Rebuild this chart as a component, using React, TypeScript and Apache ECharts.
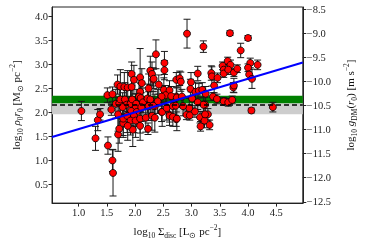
import React, { useEffect, useRef } from "react";
import * as echarts from "echarts";

// log10 Sigma_disc values
const xVals = [
  1.05, 1.30, 1.34, 1.38, 1.51, 1.52, 1.60, 1.58, 1.60, 1.61,
  1.70, 1.72, 1.79, 1.96, 2.23, 2.47, 2.73, 2.91, 2.97, 3.06,
  3.15, 3.16, 2.61, 2.73, 3.23, 3.29, 3.32, 3.24, 3.38, 3.45,
  3.57, 3.65, 3.72, 3.74, 4.06, 4.44, 3.68, 4.00, 3.87, 3.21,
  3.35, 3.36, 3.40, 3.46, 3.55, 3.64, 3.69, 3.57, 3.57, 3.65,
  3.75, 3.81, 4.04, 4.00, 4.02, 4.07, 4.17, 3.75, 2.92, 2.37,
  2.52, 2.52, 2.73, 2.79, 2.81, 3.11, 2.99, 2.98, 2.32, 2.42,
  2.51, 2.61, 2.54, 2.47, 2.64, 2.74, 2.83, 3.07, 3.13, 3.19,
  3.25, 3.01, 3.11, 3.21, 3.24, 2.48, 2.56, 2.67, 2.72, 2.61,
  2.67, 2.74, 2.96, 2.85, 2.35, 2.40, 1.69, 1.74, 1.81, 1.87,
  1.94, 1.94, 1.98, 2.09, 2.12, 2.09, 2.24, 2.27, 2.30, 2.33,
  1.66, 1.72, 1.74, 1.82, 1.85, 1.78, 1.92, 1.95, 2.02, 2.01,
  2.07, 2.10, 2.14, 2.22, 2.27, 1.93, 2.03, 2.11, 2.24, 2.32,
  1.70, 1.79, 1.86, 1.98, 1.92, 2.01, 2.09, 2.19, 2.30, 1.87,
  2.09, 2.35
];

// log10 rho0 r0 values
const yVals = [
  2.03, 1.46, 1.84, 1.96, 2.36, 1.31, 2.38, 2.06, 1.00, 0.74,
  1.54, 1.66, 1.78, 1.64, 1.66, 2.01, 1.86, 1.95, 1.94, 2.02,
  1.90, 1.71, 1.95, 2.33, 1.83, 1.96, 1.74, 2.16, 2.33, 2.28,
  2.23, 2.21, 2.26, 2.52, 2.04, 2.11, 3.65, 3.55, 3.29, 3.37,
  2.82, 2.75, 2.56, 2.72, 2.97, 3.07, 2.99, 2.89, 2.81, 2.89,
  2.83, 2.91, 3.03, 2.93, 2.79, 2.70, 2.99, 2.56, 3.64, 3.21,
  3.03, 2.88, 2.68, 2.71, 2.64, 2.81, 2.63, 2.49, 2.68, 2.58,
  2.47, 2.46, 2.36, 2.33, 2.34, 2.31, 2.33, 2.43, 2.45, 2.47,
  2.39, 2.29, 2.21, 2.16, 1.96, 2.01, 2.09, 2.13, 2.14, 1.93,
  1.91, 1.87, 2.09, 2.13, 2.13, 2.23, 2.58, 2.54, 2.53, 2.52,
  2.53, 2.80, 2.68, 2.73, 2.61, 2.43, 2.50, 2.87, 2.80, 2.70,
  2.18, 2.19, 2.27, 2.27, 2.16, 2.11, 2.18, 2.27, 2.18, 2.09,
  2.33, 2.30, 2.21, 2.29, 2.27, 2.03, 2.01, 2.11, 2.13, 2.14,
  1.96, 1.87, 1.93, 1.93, 1.83, 1.83, 1.87, 1.89, 1.93, 1.72,
  1.72, 1.89
];

// symmetric error half-widths
const yErr = [
  0.20, 0.25, 0.22, 0.12, 0.15, 0.18, 0.15, 0.12, 0.23, 0.48,
  0.35, 0.30, 0.30, 0.35, 0.12, 0.20, 0.15, 0.10, 0.10, 0.12,
  0.12, 0.10, 0.15, 0.20, 0.15, 0.12, 0.10, 0.15, 0.08, 0.10,
  0.08, 0.08, 0.08, 0.10, 0.05, 0.10, 0.05, 0.05, 0.15, 0.12,
  0.15, 0.20, 0.15, 0.10, 0.08, 0.08, 0.10, 0.10, 0.08, 0.10,
  0.08, 0.08, 0.10, 0.08, 0.10, 0.20, 0.10, 0.15, 0.30, 0.30,
  0.24, 0.20, 0.15, 0.15, 0.20, 0.15, 0.20, 0.20, 0.25, 0.20,
  0.25, 0.20, 0.20, 0.20, 0.20, 0.20, 0.15, 0.20, 0.15, 0.15,
  0.15, 0.20, 0.15, 0.15, 0.20, 0.30, 0.25, 0.20, 0.20, 0.20,
  0.20, 0.25, 0.20, 0.20, 0.25, 0.25, 0.20, 0.35, 0.30, 0.35,
  0.30, 0.25, 0.30, 0.60, 0.30, 0.30, 0.30, 0.30, 0.25, 0.20,
  0.30, 0.30, 0.30, 0.35, 0.30, 0.30, 0.30, 0.30, 0.30, 0.30,
  0.30, 0.30, 0.30, 0.30, 0.30, 0.30, 0.30, 0.30, 0.30, 0.30,
  0.35, 0.35, 0.35, 0.35, 0.30, 0.35, 0.30, 0.30, 0.30, 0.30,
  0.30, 0.30
];

// best-fit line endpoints
const fitX = [0.53, 4.97];
const fitY = [1.49, 3.04];

// horizontal reference levels
const grayBand = [1.96, 2.19];
const greenBand = [2.19, 2.345];
const dashedLevel = 2.16;

// axis tick labels
const xTicks = [1.0, 1.5, 2.0, 2.5, 3.0, 3.5, 4.0, 4.5];
const yTicks = [0.5, 1.0, 1.5, 2.0, 2.5, 3.0, 3.5, 4.0];
const gTicks = [-12.5, -12.0, -11.5, -11.0, -10.5, -10.0, -9.5, -9.0, -8.5];

const X_MIN = 0.53, X_MAX = 4.97;
const Y_MIN = 0.112, Y_MAX = 4.195;
const G_OFFSET = -12.64;

const FONT = "Liberation Serif";
const rich = {
  n: { fontFamily: FONT, fontSize: 11, lineHeight: 16, color: "#111" },
  i: { fontFamily: FONT, fontSize: 11, lineHeight: 16, fontStyle: "italic", color: "#111" },
  s: { fontFamily: FONT, fontSize: 7.5, lineHeight: 7, verticalAlign: "bottom", color: "#111" },
  p: { fontFamily: FONT, fontSize: 7.5, lineHeight: 7, verticalAlign: "top", color: "#111" },
};

export default function App() {
  const ref = useRef<HTMLDivElement>(null);
  useEffect(() => {
    if (!ref.current) return;
    const chart = echarts.init(ref.current, undefined, { renderer: "svg" });
    const pts = xVals.map((x, k) => [x, yVals[k], yErr[k]]);
    const fit = fitX.map((x, k) => [x, fitY[k]]);
    const labelStyle = { fontFamily: FONT, fontSize: 10.5, color: "#222", margin: 4 };
    chart.setOption({
      animation: false,
      grid: { left: 37, right: 50, top: 7, bottom: 34, show: true, borderColor: "#222", borderWidth: 1 },
      xAxis: {
        type: "value", min: X_MIN, max: X_MAX,
        axisLine: { lineStyle: { color: "#222", width: 1 } },
        axisTick: { show: true, length: 3.5, customValues: xTicks, lineStyle: { color: "#222" } },
        axisLabel: { ...labelStyle, customValues: xTicks, formatter: (v: number) => v.toFixed(1) },
        splitLine: { show: false },
        name: "{n|log}{s|10}{n| Σ}{s|disc}{n| [L}{s|⊙}{n| pc}{p|−2}{n|]}",
        nameLocation: "middle", nameGap: 14,
        nameTextStyle: { rich },
      },
      yAxis: [
        {
          type: "value", min: Y_MIN, max: Y_MAX, position: "left",
          axisLine: { show: true, lineStyle: { color: "#222", width: 1 } },
          axisTick: { show: true, length: 3.5, customValues: yTicks, lineStyle: { color: "#222" } },
          axisLabel: { ...labelStyle, customValues: yTicks, formatter: (v: number) => v.toFixed(1) },
          splitLine: { show: false },
          name: "{n|log}{s|10}{n| }{i|ρ}{s|0}{i|r}{s|0}{n| [M}{s|⊙}{n| pc}{p|−2}{n|]}",
          nameLocation: "middle", nameGap: 25, nameRotate: 90,
          nameTextStyle: { rich },
        },
        {
          type: "value", min: Y_MIN + G_OFFSET, max: Y_MAX + G_OFFSET, position: "right",
          axisLine: { show: true, lineStyle: { color: "#222", width: 1 } },
          axisTick: { show: true, length: 3.5, customValues: gTicks, lineStyle: { color: "#222" } },
          axisLabel: { ...labelStyle, customValues: gTicks, formatter: (v: number) => "−" + Math.abs(v).toFixed(1) },
          splitLine: { show: false },
          name: "{n|log}{s|10}{n| }{i|g}{s|DM}{n|(}{i|r}{s|0}{n|) [m s}{p|−2}{n|]}",
          nameLocation: "middle", nameGap: 39, nameRotate: 90,
          nameTextStyle: { rich },
        },
      ],
      series: [
        {
          type: "scatter", data: [], z: 1, silent: true,
          markArea: {
            silent: true,
            data: [
              [{ yAxis: grayBand[0], itemStyle: { color: "#cdcdcd" } }, { yAxis: grayBand[1] }],
              [{ yAxis: greenBand[0], itemStyle: { color: "#008000" } }, { yAxis: greenBand[1] }],
            ],
          },
          markLine: {
            silent: true, symbol: "none", label: { show: false },
            lineStyle: { color: "#000", type: [5, 3], width: 1.6 },
            data: [{ yAxis: dashedLevel }],
          },
        },
        {
          type: "custom", z: 3, silent: true,
          data: pts,
          renderItem: (params: any, api: any) => {
            const x = api.value(0), y = api.value(1), e = api.value(2);
            const t = api.coord([x, y + e]);
            const b = api.coord([x, y - e]);
            const st = { stroke: "#1a1a1a", lineWidth: 1 };
            const cw = 3.5;
            return {
              type: "group",
              children: [
                { type: "line", shape: { x1: t[0], y1: t[1], x2: b[0], y2: b[1] }, style: st },
                { type: "line", shape: { x1: t[0] - cw, y1: t[1], x2: t[0] + cw, y2: t[1] }, style: st },
                { type: "line", shape: { x1: b[0] - cw, y1: b[1], x2: b[0] + cw, y2: b[1] }, style: st },
              ],
            };
          },
        },
        {
          type: "scatter", z: 4, silent: true,
          data: pts.map((p) => [p[0], p[1]]),
          symbol: "circle", symbolSize: 7,
          itemStyle: { color: "#ff0000", borderColor: "#000", borderWidth: 0.8, opacity: 1 },
        },
        {
          type: "line", z: 5, silent: true, data: fit, symbol: "none",
          lineStyle: { color: "#0000ff", width: 2 },
        },
      ],
    });
    return () => chart.dispose();
  }, []);
  return <div ref={ref} style={{ position: "fixed", left: 0, top: 0, width: 366, height: 244 }} />;
}
